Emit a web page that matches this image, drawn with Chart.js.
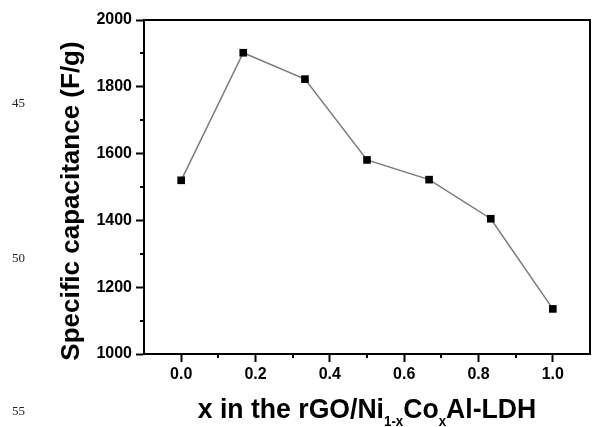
<!DOCTYPE html>
<html>
<head>
<meta charset="utf-8">
<script src="https://cdn.jsdelivr.net/npm/chart.js@4/dist/chart.umd.min.js"></script>
<style>
  html, body { margin: 0; padding: 0; background: #fff; }
  #wrap { position: relative; width: 592px; height: 427px; }
  canvas { position: absolute; left: 0; top: 0; }
  .ln { position: absolute; left: 12px; font-family: "Liberation Serif", "DejaVu Serif", serif; font-size: 13px; color: #222; line-height: 14px; }
</style>
</head>
<body>
<div id="wrap">
  <canvas id="c" width="592" height="427"></canvas>
  <div class="ln" style="top:96px">45</div>
  <div class="ln" style="top:251px">50</div>
  <div class="ln" style="top:404px">55</div>
</div>
<script>
// ---- data ----
const xValues = [0, 0.167, 0.333, 0.5, 0.667, 0.833, 1.0];
const capacitance = [1520, 1902, 1823, 1581, 1522, 1405, 1135];
const xTicks = [0, 0.2, 0.4, 0.6, 0.8, 1.0];
const xTickLabels = ['0.0', '0.2', '0.4', '0.6', '0.8', '1.0'];
const xMinorTicks = [0.1, 0.3, 0.5, 0.7, 0.9];
const yTicks = [1000, 1200, 1400, 1600, 1800, 2000];
const yTickLabels = ['1000', '1200', '1400', '1600', '1800', '2000'];
const yMinorTicks = [1100, 1300, 1500, 1700, 1900];
const yTitle = 'Specific capacitance (F/g)';
const xTitleParts = [['x in the rGO/Ni', false], ['1-x', true], ['Co', false], ['x', true], ['Al-LDH', false]];

const FONT = '"Liberation Sans", Arial, Helvetica, sans-serif';

const framePlugin = {
  id: 'frame',
  afterDraw(chart) {
    const ctx = chart.ctx;
    const a = chart.chartArea;
    const xs = chart.scales.x, ys = chart.scales.y;
    ctx.save();
    ctx.strokeStyle = '#000';
    ctx.lineWidth = 2;
    ctx.beginPath();
    ctx.moveTo(a.left - 1, a.top);
    ctx.lineTo(a.right, a.top);
    ctx.lineTo(a.right, a.bottom);
    ctx.stroke();
    // minor ticks
    ctx.beginPath();
    yMinorTicks.forEach(v => {
      const p = Math.round(ys.getPixelForValue(v));
      ctx.moveTo(a.left - 4, p); ctx.lineTo(a.left, p);
    });
    xMinorTicks.forEach(v => {
      const p = Math.round(xs.getPixelForValue(v));
      ctx.moveTo(p, a.bottom); ctx.lineTo(p, a.bottom + 4);
    });
    ctx.stroke();

    // y title
    ctx.fillStyle = '#000';
    ctx.font = 'bold 26px ' + FONT;
    ctx.textAlign = 'center';
    ctx.textBaseline = 'alphabetic';
    ctx.save();
    ctx.translate(79, 201);
    ctx.rotate(-Math.PI / 2);
    ctx.fillText(yTitle, 0, 0);
    ctx.restore();

    // x title with subscripts
    const mainFont = 'bold 28px ' + FONT;
    const subFont = 'bold 14px ' + FONT;
    const sx = 0.95;
    let total = 0;
    xTitleParts.forEach(([t, sub]) => {
      ctx.font = sub ? subFont : mainFont;
      total += ctx.measureText(t).width;
    });
    const cx = (a.left + a.right) / 2;
    ctx.save();
    ctx.translate(cx - total * sx / 2, 418);
    ctx.scale(sx, 1);
    ctx.textAlign = 'left';
    let x = 0;
    xTitleParts.forEach(([t, sub]) => {
      ctx.font = sub ? subFont : mainFont;
      ctx.fillText(t, x, sub ? 8 : 0);
      x += ctx.measureText(t).width;
    });
    ctx.restore();
    ctx.restore();
  }
};

new Chart(document.getElementById('c'), {
  type: 'line',
  data: {
    datasets: [{
      data: xValues.map((x, i) => ({ x: x, y: capacitance[i] })),
      borderColor: '#7a7a7a',
      borderWidth: 1.5,
      pointStyle: 'rect',
      pointRadius: 5.4,
      pointBackgroundColor: '#000',
      pointBorderColor: '#000',
      pointBorderWidth: 0,
      tension: 0,
      fill: false
    }]
  },
  options: {
    responsive: false,
    animation: false,
    events: [],
    layout: { autoPadding: false, padding: { left: 0, right: 2, top: 20, bottom: 0 } },
    plugins: { legend: { display: false }, tooltip: { enabled: false } },
    scales: {
      x: {
        type: 'linear',
        min: -0.1,
        max: 1.1,
        afterBuildTicks(scale) { scale.ticks = xTicks.map(v => ({ value: v })); },
        afterFit(scale) { scale.height = 73; scale.paddingLeft = 0; scale.paddingRight = 0; },
        ticks: {
          callback: (v) => { const i = xTicks.findIndex(t => Math.abs(t - v) < 1e-6); return i >= 0 ? xTickLabels[i] : ''; },
          font: { family: FONT, size: 16, weight: 'bold' },
          color: '#000',
          padding: 3,
          maxRotation: 0
        },
        grid: { drawOnChartArea: false, drawTicks: true, tickLength: 8, tickWidth: 2, tickColor: '#000' },
        border: { display: true, color: '#000', width: 2 }
      },
      y: {
        type: 'linear',
        min: 1000,
        max: 2000,
        afterBuildTicks(scale) { scale.ticks = yTicks.map(v => ({ value: v })); },
        afterFit(scale) { scale.width = 144; },
        ticks: {
          callback: (v) => { const i = yTicks.indexOf(v); return i >= 0 ? yTickLabels[i] : ''; },
          font: { family: FONT, size: 16, weight: 'bold' },
          color: '#000',
          padding: 4
        },
        grid: { drawOnChartArea: false, drawTicks: true, tickLength: 8, tickWidth: 2, tickColor: '#000' },
        border: { display: true, color: '#000', width: 2 }
      }
    }
  },
  plugins: [framePlugin]
});
</script>
</body>
</html>
